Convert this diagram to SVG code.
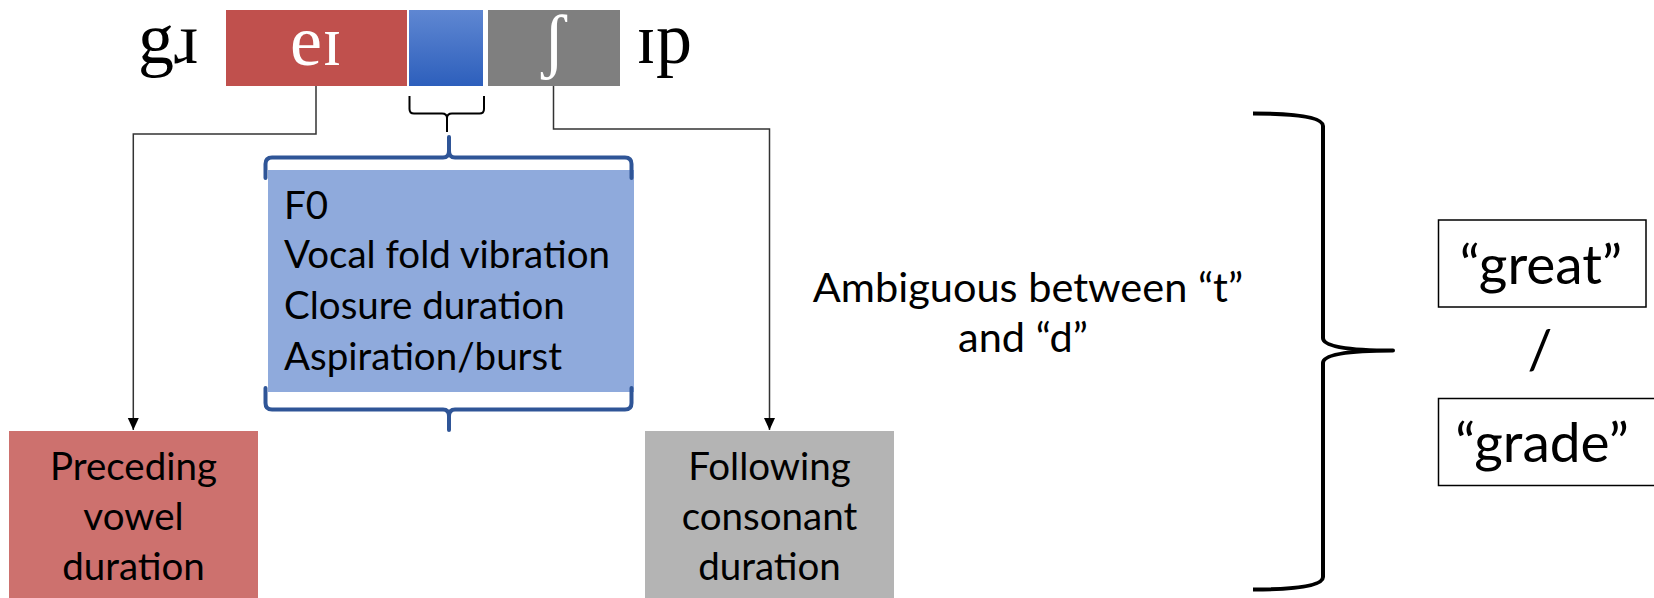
<svg xmlns="http://www.w3.org/2000/svg" width="1654" height="598" viewBox="0 0 1654 598">
<defs>
<linearGradient id="blueGrad" x1="0" y1="0" x2="0" y2="1">
<stop offset="0" stop-color="#5f87d2"/>
<stop offset="1" stop-color="#2d5fbc"/>
</linearGradient>
<marker id="arrow" viewBox="0 0 12 12" refX="12" refY="6" markerWidth="12" markerHeight="12" markerUnits="userSpaceOnUse" orient="auto">
<path d="M0,0.5 L12,6 L0,11.5 Z" fill="#000"/>
</marker>
</defs>
<style>
.ipa{font-family:"Liberation Serif","DejaVu Serif",serif;font-size:72px;}
.sans{font-family:Lato,"Liberation Sans",sans-serif;font-size:38.5px;fill:#000;}
.amb{font-family:Lato,"Liberation Sans",sans-serif;font-size:41.5px;fill:#000;}
.big{font-family:Lato,"Liberation Sans",sans-serif;font-size:55px;fill:#000;}
.conn{fill:none;stroke:#333;stroke-width:1.5;}
.bluebrace{fill:none;stroke:#2f5597;stroke-width:4;stroke-linecap:round;stroke-linejoin:round;}
.blackbrace{fill:none;stroke:#000;stroke-linejoin:round;}
.wordbox{fill:#fff;stroke:#000;stroke-width:1.5;}
</style>
<rect width="1654" height="598" fill="#fff"/>

<g id="segments">
<text class="ipa" x="138" y="63" fill="#000">gɹ</text>
<rect x="226" y="10" width="181" height="76" fill="#c0504d"/>
<text class="ipa" x="316" y="65" fill="#fff" text-anchor="middle">eɪ</text>
<rect x="409" y="10" width="74" height="76" fill="url(#blueGrad)"/>
<rect x="488" y="10" width="132" height="76" fill="#7f7f7f"/>
<text class="ipa" x="554" y="65" fill="#fff" text-anchor="middle">ʃ</text>
<text class="ipa" x="636" y="63" fill="#000">ɪp</text>
</g>

<g id="small-brace">
<path class="blackbrace" stroke-width="2" d="M409.5,96 L409.5,109 Q409.5,113.5 414,113.5 L442,113.5 Q447,113.5 447,118 L447,132 M447,118 Q447,113.5 452,113.5 L479.5,113.5 Q484,113.5 484,109 L484,96"/>
</g>

<g id="cues">
<rect x="268" y="170" width="366" height="222" fill="#8faadc"/>
<path class="bluebrace" d="M265.5,178 L265.5,164 Q265.5,157.5 272,157.5 L443,157.5 Q449,157.5 449,151 L449,137 L449,151 Q449,157.5 455,157.5 L625,157.5 Q631.5,157.5 631.5,164 L631.5,178"/>
<path class="bluebrace" d="M265.5,388 L265.5,403 Q265.5,409.5 272,409.5 L443,409.5 Q449,409.5 449,416 L449,430 L449,416 Q449,409.5 455,409.5 L625,409.5 Q631.5,409.5 631.5,403 L631.5,388"/>
<text class="sans" x="284" y="219">F0</text>
<text class="sans" x="284" y="268">Vocal fold vibration</text>
<text class="sans" x="284" y="319">Closure duration</text>
<text class="sans" x="284" y="370">Aspiration/burst</text>
</g>

<g id="preceding">
<rect x="9" y="431" width="249" height="170" fill="#cd716e"/>
<text class="sans" x="133.5" y="480" text-anchor="middle">Preceding</text>
<text class="sans" x="133.5" y="530" text-anchor="middle">vowel</text>
<text class="sans" x="133.5" y="580" text-anchor="middle">duration</text>
</g>

<g id="following">
<rect x="645" y="431" width="249" height="170" fill="#b4b4b4"/>
<text class="sans" x="769.5" y="480" text-anchor="middle">Following</text>
<text class="sans" x="769.5" y="530" text-anchor="middle">consonant</text>
<text class="sans" x="769.5" y="580" text-anchor="middle">duration</text>
</g>

<g id="ambiguous">
<text class="amb" x="1028" y="302" text-anchor="middle">Ambiguous between “t”</text>
<text class="amb" x="1023" y="352" text-anchor="middle">and “d”</text>
</g>

<g id="big-brace">
<path class="blackbrace" stroke-width="4" d="M1253,113.5 Q1323,113.5 1323,126 L1323,338 Q1323,350.5 1393,350.5 Q1323,350.5 1323,363 L1323,577 Q1323,589.5 1253,589.5"/>
</g>

<g id="great">
<rect class="wordbox" x="1438.5" y="220" width="207.5" height="87"/>
<text class="big" x="1541" y="284" text-anchor="middle">“great”</text>
</g>
<text class="big" x="1540" y="369" text-anchor="middle">/</text>
<g id="grade">
<rect class="wordbox" x="1438.5" y="398.5" width="230" height="87"/>
<text class="big" x="1542" y="462" text-anchor="middle">“grade”</text>
</g>

<g id="connectors">
<path class="conn" d="M316,86 L316,134 L133.3,134 L133.3,430" marker-end="url(#arrow)"/>
<path class="conn" d="M553.5,86 L553.5,129 L769.5,129 L769.5,430" marker-end="url(#arrow)"/>
</g>
</svg>
